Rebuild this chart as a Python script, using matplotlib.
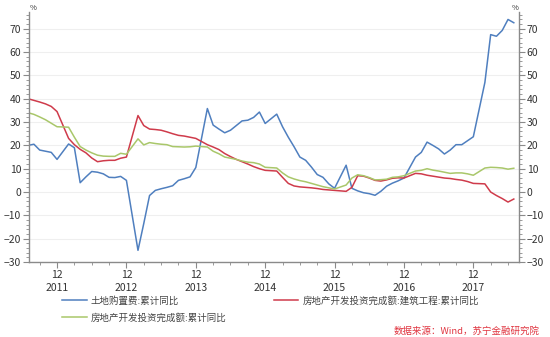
import matplotlib
matplotlib.use("Agg")
import matplotlib.pyplot as plt
import numpy as np
import pandas as pd

plt.rcParams['font.family'] = ['Noto Sans CJK SC', 'DejaVu Sans']

# monthly Wind series (Jan-Feb combined -> no January point)
all_months = pd.date_range('2011-07-01', '2018-07-01', freq='MS')
months = [m for m in all_months if m.month != 1]

land = [20, 20.5, 18, 17.5, 17, 14,
        20.6, 19, 4, 6.5, 8.8, 8.5, 7.8, 6.3, 6.2, 6.7, 5,
        -25, -13.5, -1.5, 0.7, 1.4, 2, 2.7, 5, 5.7, 6.5, 10.5,
        35.8, 28.7, 27, 25.4, 26.5, 28.5, 30.5, 30.8, 32, 34.3, 29.4,
        33.4, 28, 23.5, 19.4, 15, 13.6, 10.7, 7.5, 6.3, 3.5, 1.6,
        11.5, 1.6, 0.5, -0.3, -0.7, -1.4, 0.3, 2.5, 3.8, 4.8, 6,
        15, 17, 21.4, 20, 18.5, 16.3, 18, 20.3, 20.3, 22, 23.7,
        47, 67.5, 66.8, 69.3, 74, 72.6]

construction = [40, 39.3, 38.6, 37.8, 36.7, 34.5,
                23, 20.3, 18.3, 16.8, 14.6, 13, 13.4, 13.6, 13.6, 14.5, 15,
                32.8, 28.5, 27, 26.8, 26.5, 25.8, 25, 24.3, 24, 23.5, 23,
                20.3, 19.3, 18.2, 16.5, 15.2, 14, 13, 12, 10.9, 10, 9.3,
                9, 6.3, 3.7, 2.6, 2.2, 2, 1.8, 1.5, 1.1, 0.9, 0.7,
                0.3, 2, 7, 6.8, 6, 5, 4.7, 5.2, 5.9, 6.1, 6,
                8, 7.8, 7.2, 6.8, 6.4, 6, 5.8, 5.4, 5.1, 4.5, 3.7,
                3.5, 0, -1.5, -2.8, -4.3, -3]

investment = [34, 33.3, 32.2, 31, 29.5, 28,
              27.8, 23.5, 19.5, 18, 16.8, 15.8, 15.4, 15.3, 15.3, 16.6, 16.2,
              22.8, 20.2, 21.2, 20.8, 20.5, 20.3, 19.5, 19.4, 19.3, 19.4, 19.7,
              19.3, 17.5, 16.4, 15, 14.5, 14, 13.3, 12.8, 12.6, 12, 10.6,
              10.3, 8.2, 6.5, 5.6, 4.9, 4.4, 3.7, 3, 2.3, 1.8, 1.3,
              3, 6, 7.4, 7, 6.2, 5.2, 5.3, 5.5, 6.3, 6.5, 7,
              9, 9.3, 10, 9.4, 9, 8.5, 8, 8.2, 8.2, 7.8, 7.2,
              10.3, 10.6, 10.5, 10.3, 9.8, 10.2]

labels = ['土地购置费:累计同比', '房地产开发投资完成额:建筑工程:累计同比', '房地产开发投资完成额:累计同比']
colors = ['#4f7fbf', '#cf3b4b', '#a9c76a']
source = '数据来源：Wind，苏宁金融研究院'

# month position, 0 = Dec 2011
def mpos(d):
    return (d.year - 2011) * 12 + d.month - 12

x = np.array([mpos(m) for m in months])

fig = plt.figure(figsize=(5.5, 3.37), dpi=100)
ax = fig.add_axes([29 / 550, 0.2226, 490 / 550, 0.7404])

h1, = ax.plot(x, land, color=colors[0], lw=1.1)
h2, = ax.plot(x, construction, color=colors[1], lw=1.1)
h3, = ax.plot(x, investment, color=colors[2], lw=1.1)

ax.set_xlim(-4.85, 79.9)
ax.set_ylim(-30, 77)

ax.set_yticks(np.arange(-30, 71, 10))
ax.set_yticks(np.arange(-30, 77, 2), minor=True)
ax.grid(axis='y', which='major', color='#efefef', lw=0.8)
ax.set_axisbelow(True)

dec_pos = [mpos(m) for m in all_months if m.month == 12]
ax.set_xticks(dec_pos)
ax.set_xticklabels([f"12\n{2011 + p // 12}" for p in dec_pos])
ax.set_xticks([mpos(m) for m in all_months if m.month in (3, 6, 9)], minor=True)

spine_c = '#8a8a8a'
ax.spines['top'].set_visible(False)
for s in ['left', 'right', 'bottom']:
    ax.spines[s].set_color(spine_c)
    ax.spines[s].set_linewidth(1.0)

ax.tick_params(axis='y', which='both', left=True, right=True, labelleft=True,
               labelright=True, direction='out', colors=spine_c,
               labelcolor='#333333', labelsize=7.5)
ax.tick_params(axis='y', which='major', length=4, pad=1.5)
ax.tick_params(axis='y', which='minor', length=2)
ax.tick_params(axis='x', which='major', length=4, direction='out', colors=spine_c,
               labelcolor='#333333', labelsize=7.5, pad=2)
ax.tick_params(axis='x', which='minor', length=2.5, direction='out', colors=spine_c)
for lab in ax.get_xticklabels():
    lab.set_linespacing(1.3)

fig.text(33 / 550, 1 - 8 / 337, '%', fontsize=5.5, color='#333333', ha='center', va='center')
fig.text(515 / 550, 1 - 8 / 337, '%', fontsize=5.5, color='#333333', ha='center', va='center')

leg = fig.legend([h1, h3, h2], [labels[0], labels[2], labels[1]], ncol=2,
                 loc='upper left', bbox_to_anchor=(62 / 550, 1 - 296 / 337),
                 frameon=False, fontsize=6.8, handlelength=2.6, handletextpad=0.45,
                 columnspacing=5.0, labelspacing=0.75, borderaxespad=0, borderpad=0)
for t in leg.get_texts():
    t.set_color('#444444')

fig.text(540 / 550, 1 - 331 / 337, source, fontsize=6.8, color='#e03540', ha='right',
         va='center', style='italic')

fig.savefig('out.png', dpi=100)
